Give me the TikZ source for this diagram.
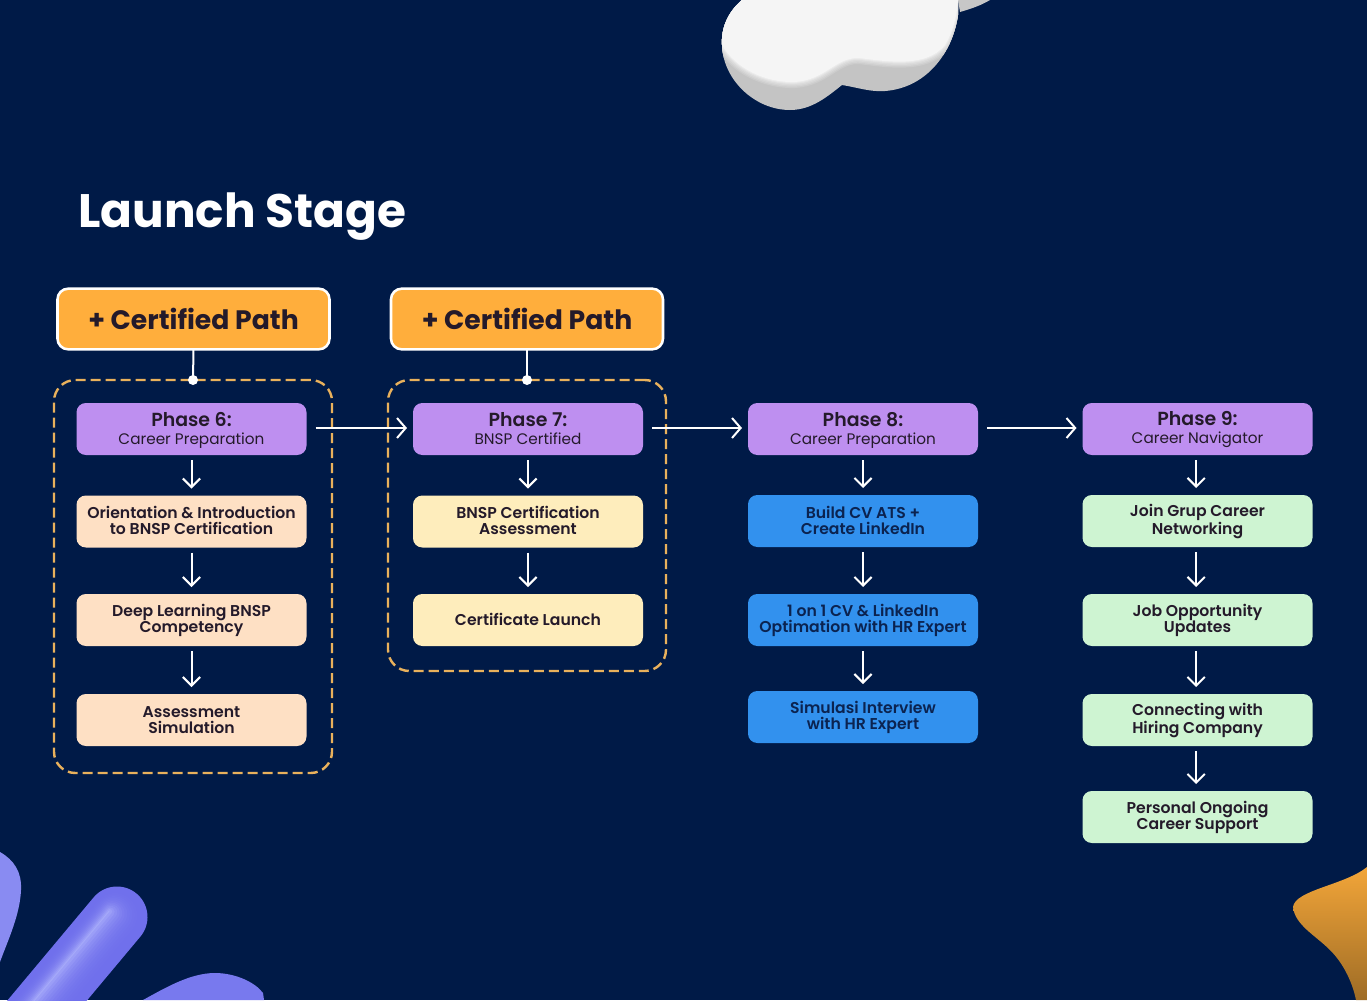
\documentclass[tikz,border=0pt]{standalone}
\usepackage{fontspec}
\setmainfont{Poppins}[BoldFont=Poppins SemiBold]
\newfontfamily\heavyfont{Poppins Bold}
\usepackage{xcolor}
\usetikzlibrary{arrows.meta,positioning,calc}

\definecolor{navybg}{HTML}{001A47}
\definecolor{phasepurple}{HTML}{BE8FF0}
\definecolor{peachbox}{HTML}{FEE0C4}
\definecolor{creambox}{HTML}{FEEDBC}
\definecolor{bluebox}{HTML}{3291EE}
\definecolor{greenbox}{HTML}{CEF4D2}
\definecolor{pathorange}{HTML}{FFAE3C}
\definecolor{dashgold}{HTML}{E9B15C}
\definecolor{inkdark}{HTML}{241A2A}
\definecolor{inkblue}{HTML}{0B2350}
\definecolor{capsulebase}{HTML}{7070EC}
\definecolor{capsulelight}{HTML}{A8ACFA}

\tikzset{
    card/.style={rounded corners=7pt, minimum width=172.5pt, minimum height=39pt, inner sep=0pt, outer sep=0pt, align=center, text=inkdark, font=\fontsize{11.75}{12}\selectfont\bfseries},
    phasecard/.style={card, fill=phasepurple},
    peachcard/.style={card, fill=peachbox},
    creamcard/.style={card, fill=creambox},
    bluecard/.style={card, fill=bluebox, text=inkblue},
    greencard/.style={card, fill=greenbox},
    pathcard/.style={draw=white, line width=1.9pt, fill=pathorange, rounded corners=8pt, minimum width=204pt, minimum height=45.5pt, inner sep=0pt, outer sep=0pt, text=inkdark, font=\fontsize{20}{20}\selectfont\heavyfont},
    dashframe/.style={draw=dashgold, line width=1.8pt, dash pattern=on 7.5pt off 3.75pt, rounded corners=16pt, minimum width=208.5pt, inner sep=0pt, outer sep=0pt},
    flowdown/.style={draw=white, line width=1.5pt, -{Straight Barb[length=6.5pt,width=13pt]}, shorten <=3.75pt, shorten >=5.25pt},
    flowright/.style={draw=white, line width=1.5pt, -{Straight Barb[length=6.5pt,width=15pt]}, shorten <=6.75pt, shorten >=4.5pt},
}

\newcommand{\phasetext}[2]{\rule{0pt}{12pt}{\fontsize{14.2}{14.2}\selectfont\bfseries #1}\\[1.5pt]{\fontsize{11.45}{12}\selectfont\mdseries #2}\rule[-3pt]{0pt}{3pt}}
\newcommand{\cardtext}[1]{\rule{0pt}{10.5pt}#1\rule[-3pt]{0pt}{3pt}}
\newcommand{\cloudedge}{(742,0) .. controls (728,12) and (721,28) .. (722,45)
        .. controls (735,68) and (765,83) .. (795,82)
        .. controls (825,80) and (835,58) .. (858,58)
        .. controls (880,60) and (925,70) .. (945,45)
        .. controls (953,32) and (957,15) .. (958,0) -- cycle}

\begin{document}
\begin{tikzpicture}[x=0.75pt,y=-0.75pt]
    \useasboundingbox (0,0) rectangle (1367,1000);
    \fill[navybg] (0,0) rectangle (1367,1000);

    % White blob, top
    \fill[black!22] (958,0) -- (990,0) .. controls (980,6) and (970,9) .. (960,12) -- cycle;
    \begin{scope}
        \clip (742,0) .. controls (728,12) and (721,28) .. (722,45)
            .. controls (723,80) and (755,110) .. (790,110)
            .. controls (812,110) and (828,96) .. (842,85)
            .. controls (860,88) and (870,92) .. (885,91)
            .. controls (925,88) and (952,55) .. (958,15) -- (958,0) -- cycle;
        \fill[black!23] (700,0) rectangle (970,115);
        \foreach \w/\g in {9/20,7/17,5/14,3/11,1.5/8}
            \draw[line width=\w pt, black!\g] \cloudedge;
        \fill[black!4] \cloudedge;
    \end{scope}

    % Purple blob, bottom left
    \begin{scope}
        \clip (0,1000) rectangle (300,840);
        \foreach \w in {61,57,...,1} {
            \pgfmathsetmacro\offs{1-\w/61}
            \pgfmathsetmacro\mixval{100*\offs*\offs*\offs}
            \draw[line width=\w*0.75pt, line cap=round, color=capsulelight!\mixval!capsulebase]
                (117-8*\offs,917-6*\offs) -- (-6-8*\offs,1064-6*\offs);
        }
        \fill[capsulelight!45!capsulebase] (0,852) .. controls (14,860) and (22,872) .. (21,890)
            .. controls (20,915) and (8,940) .. (0,962) -- cycle;
        \fill[capsulelight!15!capsulebase] (143,1000) .. controls (165,988) and (190,973) .. (215,973)
            .. controls (235,973) and (255,982) .. (263,993) -- (264,1000) -- cycle;
    \end{scope}

    % Orange blob, bottom right
    \shade[top color=pathorange!95!black, middle color=pathorange!85!black, bottom color=pathorange!62!black] (1367,867) .. controls (1345,885) and (1295,890) .. (1293,907)
        .. controls (1295,925) and (1315,935) .. (1330,950)
        .. controls (1345,965) and (1353,985) .. (1356,1000) -- (1367,1000) -- cycle;

    % Title
    \node[anchor=west, text=white, font=\fontsize{35.2}{35}\selectfont\heavyfont, inner sep=0pt] (title) at (78,217) {Launch Stage};

    % Dashed frames
    \node[dashframe, minimum height=294.75pt] (frame6) at (193,576.5) {};
    \node[dashframe, minimum height=218.25pt] (frame7) at (527,525.5) {};

    % Certified path
    \node[pathcard] (cert6) at (193.5,319) {+ Certified Path};
    \node[pathcard] (cert7) at (527,319) {+ Certified Path};
    \fill[white] (frame6.north) circle (3.75pt);
    \fill[white] (frame7.north) circle (3.75pt);
    \draw[white, line width=1.5pt] (cert6.south) -- (frame6.north);
    \draw[white, line width=1.5pt] (cert7.south) -- (frame7.north);

    % Phase 6
    \node[phasecard] (phase6) at (191.5,429) {\phasetext{Phase 6:}{Career Preparation}};
    \node[peachcard] (orient) at (191.5,521.5) {\cardtext{Orientation \& Introduction\\to BNSP Certification}};
    \node[peachcard] (deep) at (191.5,620) {\cardtext{Deep Learning BNSP\\Competency}};
    \node[peachcard] (simul) at (191.5,720) {\cardtext{Assessment\\Simulation}};

    % Phase 7
    \node[phasecard] (phase7) at (528,429) {\phasetext{Phase 7:}{BNSP Certified}};
    \node[creamcard] (assess) at (528,521.5) {\cardtext{BNSP Certification\\Assessment}};
    \node[creamcard] (launch) at (528,620) {\cardtext{Certificate Launch}};

    % Phase 8
    \node[phasecard] (phase8) at (863,429) {\phasetext{Phase 8:}{Career Preparation}};
    \node[bluecard] (buildcv) at (863,521) {\cardtext{Build CV ATS +\\Create LinkedIn}};
    \node[bluecard] (oneon) at (863,620) {\cardtext{1 on 1 CV \& LinkedIn\\Optimation with HR Expert}};
    \node[bluecard] (interview) at (863,717) {\cardtext{Simulasi Interview\\with HR Expert}};

    % Phase 9
    \node[phasecard] (phase9) at (1197.5,429) {\phasetext{Phase 9:}{Career Navigator}};
    \node[greencard] (grup) at (1197.5,521) {\cardtext{Join Grup Career\\Networking}};
    \node[greencard] (jobs) at (1197.5,620) {\cardtext{Job Opportunity\\Updates}};
    \node[greencard] (hiring) at (1197.5,720) {\cardtext{Connecting with\\Hiring Company}};
    \node[greencard] (ongoing) at (1197.5,817) {\cardtext{Personal Ongoing\\Career Support}};

    % Arrows
    \draw[flowright] ([yshift=.75pt]phase6.east) -- ([yshift=.75pt]phase7.west);
    \draw[flowright] ([yshift=.75pt]phase7.east) -- ([yshift=.75pt]phase8.west);
    \draw[flowright] ([yshift=.75pt]phase8.east) -- ([yshift=.75pt]phase9.west);
    \draw[flowdown] (phase6) -- (orient);
    \draw[flowdown] (orient) -- (deep);
    \draw[flowdown] (deep) -- (simul);
    \draw[flowdown] (phase7) -- (assess);
    \draw[flowdown] (assess) -- (launch);
    \draw[flowdown] (phase8) -- (buildcv);
    \draw[flowdown] (buildcv) -- (oneon);
    \draw[flowdown] (oneon) -- (interview);
    \draw[flowdown] ([xshift=-1pt]phase9.south) -- ([xshift=-1pt]grup.north);
    \draw[flowdown] ([xshift=-1pt]grup.south) -- ([xshift=-1pt]jobs.north);
    \draw[flowdown] ([xshift=-1pt]jobs.south) -- ([xshift=-1pt]hiring.north);
    \draw[flowdown] ([xshift=-1pt]hiring.south) -- ([xshift=-1pt]ongoing.north);
\end{tikzpicture}
\end{document}
